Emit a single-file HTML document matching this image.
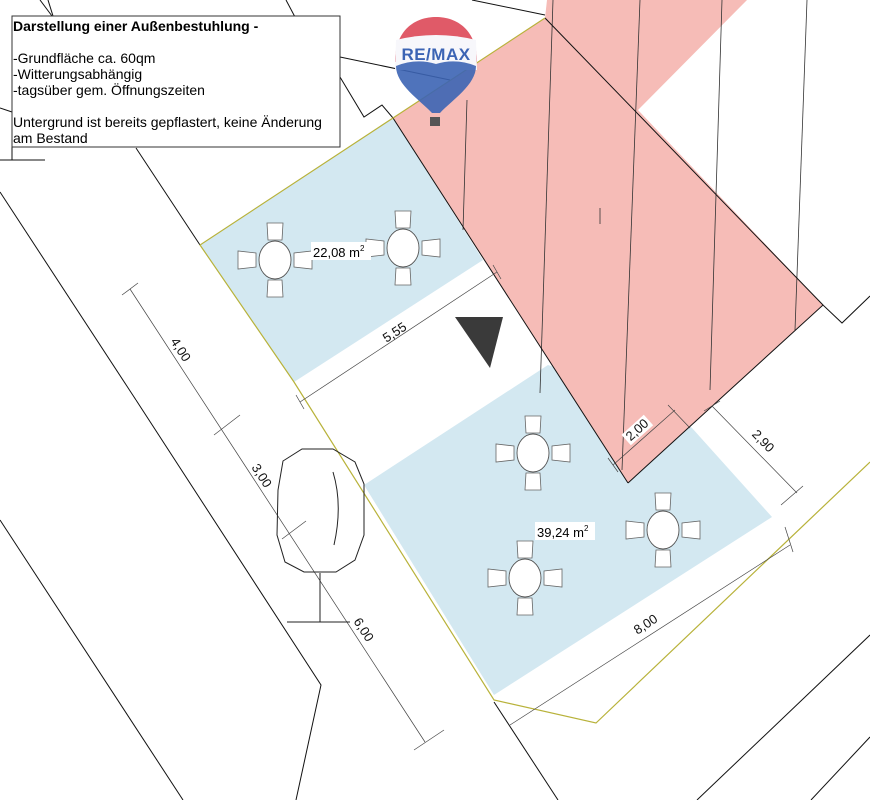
<!DOCTYPE html>
<html><head><meta charset="utf-8"><style>
html,body{margin:0;padding:0;background:#fff;}
svg{display:block;}
text{font-family:"Liberation Sans",sans-serif;}
</style></head><body>
<svg width="870" height="800" viewBox="0 0 870 800" xmlns="http://www.w3.org/2000/svg">
<defs>
<g id="set">
  <path d="M-8,-37 L8,-37 L7,-20 L-7,-20 Z" fill="#fff" stroke="#666" stroke-width="0.8"/>
  <path d="M-8,37 L8,37 L7,20 L-7,20 Z" fill="#fff" stroke="#666" stroke-width="0.8"/>
  <path d="M-37,-9 L-37,9 L-19,7 L-19,-7 Z" fill="#fff" stroke="#666" stroke-width="0.8"/>
  <path d="M37,-9 L37,9 L19,7 L19,-7 Z" fill="#fff" stroke="#666" stroke-width="0.8"/>
  <ellipse cx="0" cy="0" rx="16" ry="19" fill="#fff" stroke="#555" stroke-width="0.9"/>
</g>
</defs>

<polygon points="200,245 393,118 483,260 294,382" fill="#d3e8f1"/>
<polygon points="364,485 548,365 660,400 692,428 772,517 494,695" fill="#d3e8f1"/>

<polygon points="393,118 545,18 547,0 747,0 638,110 823,305 628,483" fill="#f6bcb7"/>

<g stroke="#333" stroke-width="0.8">
<line x1="467" y1="100" x2="463" y2="230"/>
<line x1="553" y1="0" x2="540" y2="393"/>
<line x1="640" y1="0" x2="622" y2="470"/>
<line x1="722" y1="0" x2="710" y2="390"/>
<line x1="807" y1="0" x2="795" y2="330"/>
<line x1="600" y1="208" x2="600" y2="224"/>
</g>

<g stroke="#111" stroke-width="1" fill="none">
<line x1="393" y1="118" x2="628" y2="483"/>
<line x1="545" y1="18" x2="823" y2="305"/>
<polyline points="628,483 823,305 842,323 870,296"/>
<line x1="472" y1="0" x2="545" y2="15"/>
<line x1="286" y1="0" x2="295" y2="17"/>
<polyline points="340,77 364,117 382,105 393,118"/>
<line x1="340" y1="57" x2="450" y2="80"/>
<line x1="136" y1="148" x2="200" y2="245"/>
<line x1="494" y1="702" x2="558" y2="800"/>
<line x1="0" y1="192" x2="136" y2="400"/>
<polyline points="136,400 321,685 296,800"/>
<line x1="0" y1="520" x2="183" y2="800"/>
<line x1="697" y1="800" x2="870" y2="635"/>
<line x1="811" y1="800" x2="870" y2="737"/>
<line x1="0" y1="160" x2="45" y2="160"/>
<line x1="12" y1="147" x2="12" y2="160"/>
<line x1="40" y1="0" x2="52" y2="16"/>
<line x1="48" y1="0" x2="53" y2="16"/>
<line x1="0" y1="108" x2="12" y2="112"/>
</g>

<g stroke="#b8b23a" stroke-width="1.2" fill="none">
<polyline points="545,18 393,118 200,245 294,382 494,700 596,723 870,462"/>
</g>

<g stroke="#444" stroke-width="0.7" fill="none">
<line x1="130" y1="289" x2="425" y2="742"/>
<line x1="122" y1="295" x2="138" y2="283"/><line x1="214" y1="435" x2="240" y2="415"/>
<line x1="282" y1="539" x2="306" y2="521"/><line x1="414" y1="750" x2="444" y2="730"/>
<line x1="300" y1="402" x2="497" y2="272"/>
<line x1="296" y1="395" x2="304" y2="409"/><line x1="493" y1="265" x2="501" y2="279"/>
<line x1="613" y1="465" x2="675" y2="410"/>
<line x1="608" y1="458" x2="618" y2="472"/><line x1="668" y1="405" x2="690" y2="428"/>
<line x1="712" y1="406" x2="797" y2="493"/>
<line x1="704" y1="411" x2="720" y2="401"/><line x1="781" y1="505" x2="803" y2="486"/>
<line x1="510" y1="725" x2="790" y2="545"/>
<line x1="785" y1="527" x2="793" y2="552"/>
</g>

<g font-size="13" fill="#111">
<text transform="translate(177,352) rotate(57)" text-anchor="middle">4,00</text>
<text transform="translate(258,478) rotate(57)" text-anchor="middle">3,00</text>
<text transform="translate(360,632) rotate(57)" text-anchor="middle">6,00</text>
<text transform="translate(397,336) rotate(-33)" text-anchor="middle">5,55</text>
<g transform="translate(640,433) rotate(-42)"><rect x="-15" y="-11" width="30" height="14" fill="#fff"/><text text-anchor="middle">2,00</text></g>
<text transform="translate(760,444) rotate(46)" text-anchor="middle">2,90</text>
<text transform="translate(648,628) rotate(-33)" text-anchor="middle">8,00</text>
</g>

<use href="#set" x="275" y="260"/>
<use href="#set" x="403" y="248"/>
<use href="#set" x="533" y="453"/>
<use href="#set" x="663" y="530"/>
<use href="#set" x="525" y="578"/>

<rect x="311" y="242" width="60" height="18" fill="#fff"/>
<text x="313" y="257" font-size="13">22,08 m<tspan font-size="8" dy="-6">2</tspan></text>
<rect x="535" y="522" width="60" height="18" fill="#fff"/>
<text x="537" y="537" font-size="13">39,24 m<tspan font-size="8" dy="-6">2</tspan></text>

<g stroke="#222" stroke-width="1" fill="none">
<path d="M302,449 L333,449 L355,462 L364,484 L364,535 L355,560 L336,572 L304,572 L285,562 L277,535 L278,490 L283,461 Z"/>
<path d="M333,472 Q343,505 334,545"/>
<line x1="320" y1="573" x2="320" y2="622"/>
<line x1="287" y1="622" x2="350" y2="622"/>
</g>

<polygon points="455,317 503,317 490,368" fill="#3a3a3a"/>

<g>
<path d="M395,62 C395,30 415,17 436,17 C457,17 477,30 477,62 Z" fill="#e05a68"/>
<path d="M396,40 Q436,30 476,40 L477,70 L395,70 Z" fill="#f7f7fb"/>
<path d="M396,66 Q416,58 436,64 Q456,58 476,66 C476,85 452,100 440,113 L432,113 C420,100 396,85 396,66 Z" fill="#3c64b4" opacity="0.9"/>
<rect x="430" y="117" width="10" height="9" fill="#555"/>
<text x="436" y="60" font-size="17" font-weight="bold" fill="#3c64b4" text-anchor="middle" letter-spacing="0.5">RE/MAX</text>
</g>

<rect x="12" y="16" width="328" height="131" fill="#fff" stroke="#333" stroke-width="1"/>
<g font-size="14" fill="#000">
<text x="13" y="31" font-weight="bold">Darstellung einer Außenbestuhlung -</text>
<text x="13" y="63">-Grundfläche ca. 60qm</text>
<text x="13" y="79">-Witterungsabhängig</text>
<text x="13" y="95">-tagsüber gem. Öffnungszeiten</text>
<text x="13" y="127">Untergrund ist bereits gepflastert, keine Änderung</text>
<text x="13" y="143">am Bestand</text>
</g>
</svg>
</body></html>
